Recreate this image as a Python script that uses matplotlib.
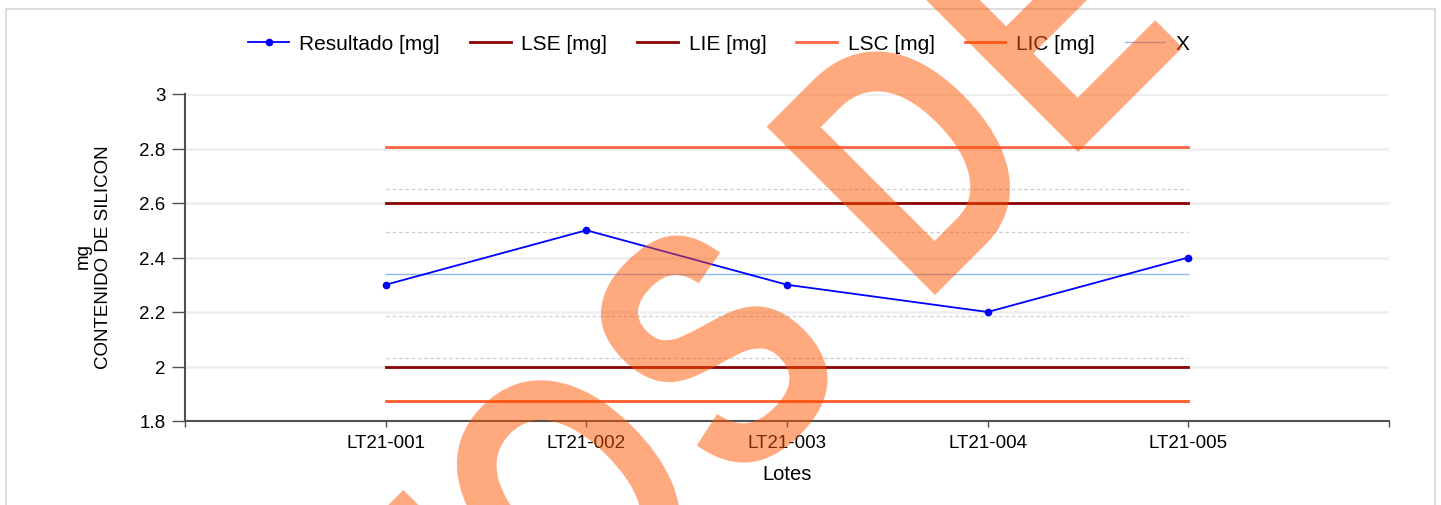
import numpy as np
import matplotlib
matplotlib.use('Agg')
import matplotlib.pyplot as plt
from matplotlib import font_manager, ft2font
from matplotlib.textpath import TextPath
from matplotlib.font_manager import FontProperties
from matplotlib.patches import PathPatch, Rectangle
from matplotlib.path import Path
from matplotlib.transforms import Affine2D, IdentityTransform

# Datos del gráfico de control
lotes = ['LT21-001', 'LT21-002', 'LT21-003', 'LT21-004', 'LT21-005']
resultado = [2.3, 2.5, 2.3, 2.2, 2.4]
lse = 2.6       # límite superior de especificación
lie = 2.0       # límite inferior de especificación
lsc = 2.8055    # límite superior de control
lic = 1.8745    # límite inferior de control
media = 2.34
zonas = [2.65, 2.495, 2.185, 2.03]   # zonas 1 y 2 sigma
marca_agua = 'DATOS DE PRUEBA'

plt.rcParams['font.family'] = ['Liberation Sans', 'DejaVu Sans']

W, H = 1441, 506
fig = plt.figure(figsize=(W / 100, H / 100), dpi=100)
ax = fig.add_axes([185 / W, 84 / H, 1204 / W, 327 / H])

x = np.arange(len(lotes))
x0, x1 = x[0], x[-1]

# Zonas sigma (grises discontinuas)
for z in zonas:
    ax.plot([x0, x1], [z, z], color='#cfcfcf', lw=0.9, ls=(0, (3, 2)), zorder=1)

ax.plot(x, resultado, color='#0000ff', lw=1.3, marker='o', ms=4.5,
        label='Resultado [mg]', zorder=6)
ax.plot([x0, x1], [lse, lse], color='#8b0000', lw=2.0, label='LSE [mg]', zorder=3)
ax.plot([x0, x1], [lie, lie], color='#8b0000', lw=2.0, label='LIE [mg]', zorder=3)
ax.plot([x0, x1], [lsc, lsc], color='#ff6347', lw=2.0, label='LSC [mg]', zorder=3)
ax.plot([x0, x1], [lic, lic], color='#ff5a2a', lw=2.0, label='LIC [mg]', zorder=3)
ax.plot([x0, x1], [media, media], color='#8fb8f2', lw=1.0, label='X', zorder=2)

ax.set_xlim(-1, len(lotes))
ax.set_ylim(1.8, 3.0)
ax.set_yticks([1.8, 2.0, 2.2, 2.4, 2.6, 2.8, 3.0])
ax.set_yticklabels(['1.8', '2', '2.2', '2.4', '2.6', '2.8', '3'])
ax.set_xticks(np.arange(-1, len(lotes) + 1))
ax.set_xticklabels([''] + lotes + [''])
ax.yaxis.grid(True, color='#efefef', lw=2.0, zorder=0)
ax.set_axisbelow(True)

for s in ['top', 'right']:
    ax.spines[s].set_visible(False)
for s in ['left', 'bottom']:
    ax.spines[s].set_color('#505050')
    ax.spines[s].set_linewidth(1.5)
ax.tick_params(axis='y', length=9.5, width=1, color='#505050', labelsize=13.5, pad=4.5)
ax.tick_params(axis='x', length=4.5, width=1, color='#505050', labelsize=13.5, pad=5)

ax.set_xlabel('Lotes', fontsize=14.5, labelpad=9)
fig.text(83 / W, 1 - 256 / H, 'mg', rotation=90, fontsize=13.5, ha='center', va='center')
fig.text(104 / W, 1 - 257 / H, 'CONTENIDO DE SILICON', rotation=90, fontsize=13.5,
         ha='center', va='center')

fig.legend(loc='center', bbox_to_anchor=(719 / W, 1 - 45 / H), ncol=6, frameon=False,
           fontsize=15, handlelength=1.95, handletextpad=0.5, columnspacing=1.45)

# Marco gris de la figura
fig.add_artist(Rectangle((6, -10), W - 12, H - 10 + 10, transform=IdentityTransform(),
                         fill=False, edgecolor='#d6d6d6', lw=1.2, zorder=0))

# Marca de agua: letras estrechas con espaciado normal, giradas 45 grados
fp = FontProperties(family='Liberation Sans', weight='bold')
ft = ft2font.FT2Font(font_manager.findfont(fp))
ft.set_size(100, 72)
em = 346
k = 0.76      # estrechamiento de cada letra
ka = 0.81     # escala del avance
partes = []
pos = 0.0
pos_d = None
for i, c in enumerate(marca_agua):
    if c != ' ':
        g = TextPath((0, 0), c, size=1, prop=fp)
        if i == 6:
            pos_d = pos + g.get_extents().x0 * k * em
        partes.append((g, pos))
    pos += ft.load_char(ord(c)).linearHoriAdvance / 65536 / 100 * ka * em

caminos = []
for g, p in partes:
    tr = (Affine2D().scale(k * em, em).translate(p - pos_d, 0)
          .rotate_deg(45).translate(935, H - 296))
    caminos.append(tr.transform_path(g))
fig.add_artist(PathPatch(Path.make_compound_path(*caminos), transform=IdentityTransform(),
                         facecolor=(1.0, 0.33, 0.0), edgecolor='none', alpha=0.5, zorder=10))

fig.savefig('out.png', dpi=100)
